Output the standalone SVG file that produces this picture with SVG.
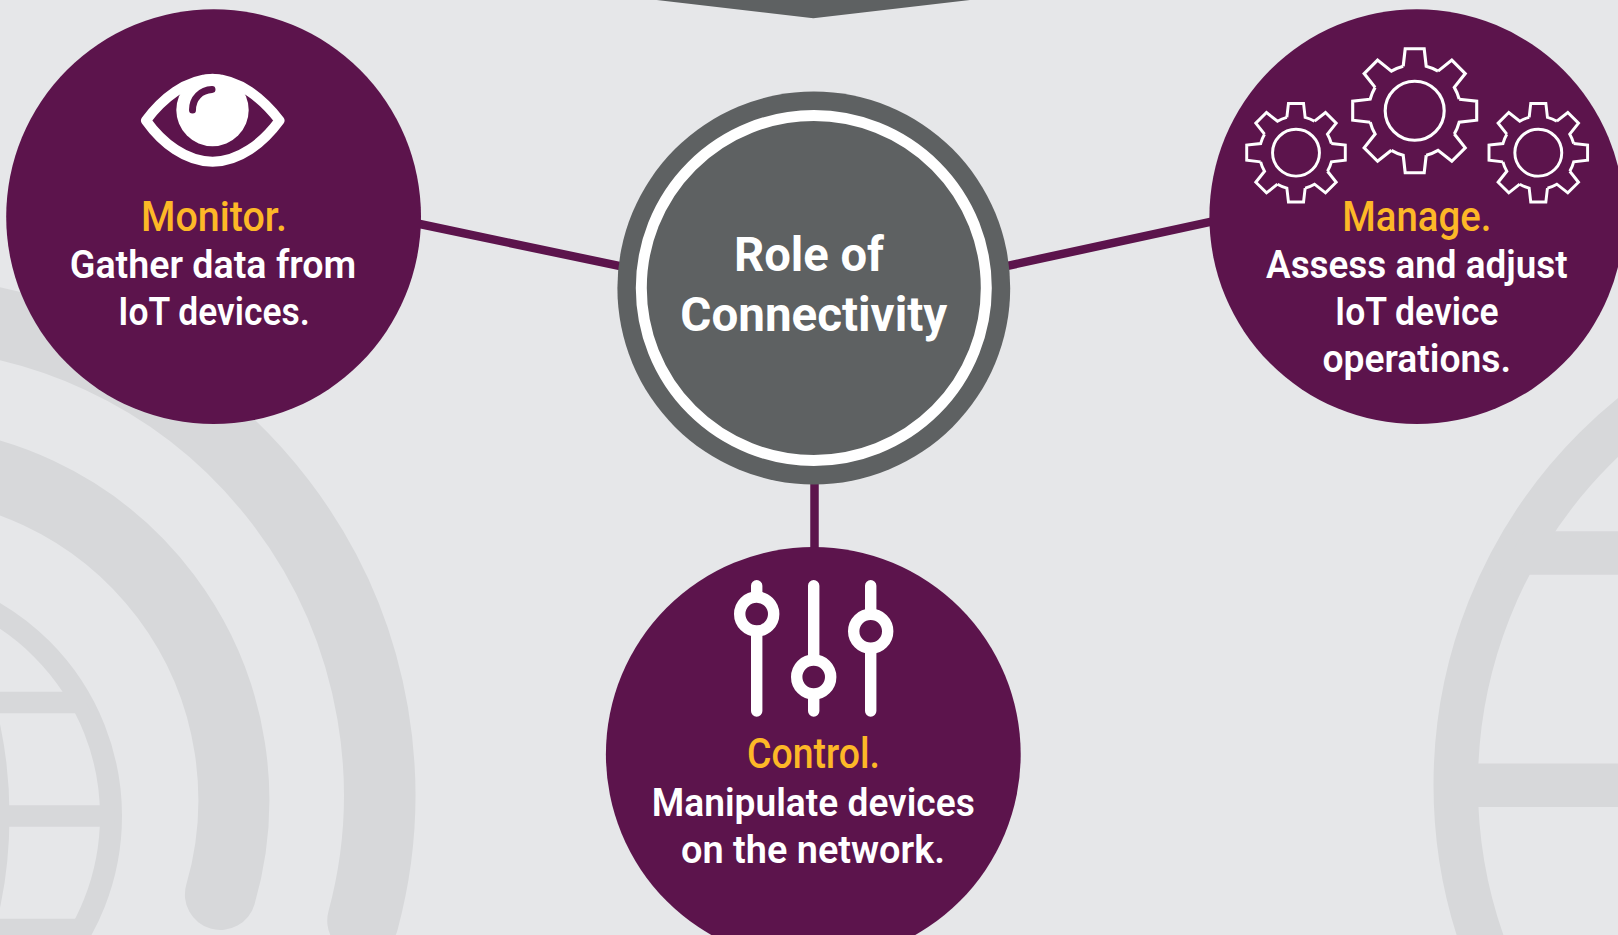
<svg xmlns="http://www.w3.org/2000/svg" xmlns:xlink="http://www.w3.org/1999/xlink" width="1618" height="935" viewBox="0 0 1618 935">
<style>
.bgs{fill:none;stroke:#d7d8da}
.node{fill:#5c144c}
.conn{stroke:#5c144c;stroke-width:8.5;fill:none}
text{font-family:"Roboto","Noto Sans","Liberation Sans",sans-serif;text-anchor:middle;font-weight:600;font-size:39px;fill:#fff}
.head{fill:#fdb827;font-size:42px;font-weight:500}
.title{font-weight:700;font-size:48px}
.gear{fill:none;stroke:#fff;stroke-linejoin:miter}
.slider{stroke:#fff;stroke-width:11.4;stroke-linecap:round;fill:none}
.knob{fill:#5c144c;stroke:#fff;stroke-width:11.4}
</style>
<defs>
<clipPath id="globeL"><circle cx="-125" cy="816" r="240"/></clipPath>
<clipPath id="globeR"><circle cx="1931.7" cy="785" r="480"/></clipPath>
<path id="tooth" d="M-11.5 -44.5L-9.5 -62L9.5 -62L11.5 -44.5A46 46 0 0 1 23.33 -39.6"/>
<g id="gearShape">
<use href="#tooth"/>
<use href="#tooth" transform="rotate(45)"/>
<use href="#tooth" transform="rotate(90)"/>
<use href="#tooth" transform="rotate(135)"/>
<use href="#tooth" transform="rotate(180)"/>
<use href="#tooth" transform="rotate(225)"/>
<use href="#tooth" transform="rotate(270)"/>
<use href="#tooth" transform="rotate(315)"/>
<circle r="29.5"/>
</g>
</defs>
<rect id="background" width="1618" height="935" fill="#e6e7e9"/>
<g id="backdrop">
<path class="bgs" stroke-width="71.5" stroke-linecap="round" d="M-102.5 312.8A482.2 482.2 0 0 1 363 920.6"/>
<path class="bgs" stroke-width="71" stroke-linecap="round" d="M-105 461.2A338.8 338.8 0 0 1 220.4 894.5"/>
<circle class="bgs" cx="-125" cy="816" r="236" stroke-width="22"/>
<g clip-path="url(#globeL)">
<ellipse class="bgs" cx="-125" cy="816" rx="123.5" ry="236" stroke-width="22"/>
<path class="bgs" stroke-width="21.6" d="M-20 702.5H130M-20 816H130M-20 929.5H130"/>
</g>
<circle class="bgs" cx="1931.7" cy="785" r="476" stroke-width="44.4"/>
<g clip-path="url(#globeR)">
<path class="bgs" stroke-width="43.6" d="M1420 553H1630M1420 785.3H1630"/>
</g>
</g>
<polygon id="top-pointer" points="656.7,0 813.3,18.3 970,0" fill="#5e6162"/>
<g id="connectors">
<line class="conn" x1="415" y1="223" x2="625" y2="267.2"/>
<line class="conn" x1="1003" y1="266.8" x2="1215" y2="220.8"/>
<line class="conn" x1="814.5" y1="480" x2="814.5" y2="552"/>
</g>
<g id="center">
<circle cx="813.8" cy="288" r="196.4" fill="#5e6162"/>
<circle cx="813.8" cy="288" r="172.5" fill="none" stroke="#fff" stroke-width="11"/>
<text class="title" x="809" y="270.7" textLength="150" lengthAdjust="spacingAndGlyphs">Role of</text>
<text class="title" x="813.8" y="330.5" textLength="267" lengthAdjust="spacingAndGlyphs">Connectivity</text>
</g>
<g id="monitor">
<circle class="node" cx="213.6" cy="216.7" r="207.4"/>
<path d="M146 120.5C162 99 186 79 212.6 79C239 79 263 99 279.5 120.5C263 143 239 161.7 212.6 161.7C186 161.7 162 143 146 120.5Z" fill="none" stroke="#fff" stroke-width="10" stroke-linejoin="round"/>
<circle cx="212.5" cy="110" r="36.2" fill="#fff"/>
<path d="M192.5 110C192.5 98 201 90 212 89.5" fill="none" stroke="#5c144c" stroke-width="7" stroke-linecap="round"/>
<text class="head" x="214" y="230.5" textLength="146" lengthAdjust="spacingAndGlyphs">Monitor.</text>
<text x="213" y="278" textLength="286.5" lengthAdjust="spacingAndGlyphs">Gather data from</text>
<text x="214" y="325.3" textLength="191.5" lengthAdjust="spacingAndGlyphs">IoT devices.</text>
</g>
<g id="manage">
<circle class="node" cx="1416.8" cy="216.7" r="207.4"/>
<use href="#gearShape" class="gear" stroke-width="3.1" transform="translate(1414.7 110.7)"/>
<use href="#gearShape" class="gear" stroke-width="3.7" transform="translate(1296 152.7) scale(.795)"/>
<use href="#gearShape" class="gear" stroke-width="3.7" transform="translate(1538.3 152.7) scale(.795)"/>
<text class="head" x="1416.8" y="230.5" textLength="149" lengthAdjust="spacingAndGlyphs">Manage.</text>
<text x="1416.8" y="278" textLength="301.5" lengthAdjust="spacingAndGlyphs">Assess and adjust</text>
<text x="1416.8" y="325.3" textLength="163.5" lengthAdjust="spacingAndGlyphs">IoT device</text>
<text x="1416.8" y="372" textLength="188.5" lengthAdjust="spacingAndGlyphs">operations.</text>
</g>
<g id="control">
<circle class="node" cx="813.3" cy="754.4" r="207.4"/>
<path class="slider" d="M756.7 585.7V711M813.7 585.7V711M870.7 585.7V711"/>
<circle class="knob" cx="756.7" cy="614" r="17"/>
<circle class="knob" cx="813.7" cy="677" r="17"/>
<circle class="knob" cx="870.7" cy="631.3" r="17"/>
<text class="head" x="813.5" y="768" textLength="133" lengthAdjust="spacingAndGlyphs">Control.</text>
<text x="813.3" y="815.6" textLength="323" lengthAdjust="spacingAndGlyphs">Manipulate devices</text>
<text x="813" y="862.6" textLength="264" lengthAdjust="spacingAndGlyphs">on the network.</text>
</g>
</svg>
